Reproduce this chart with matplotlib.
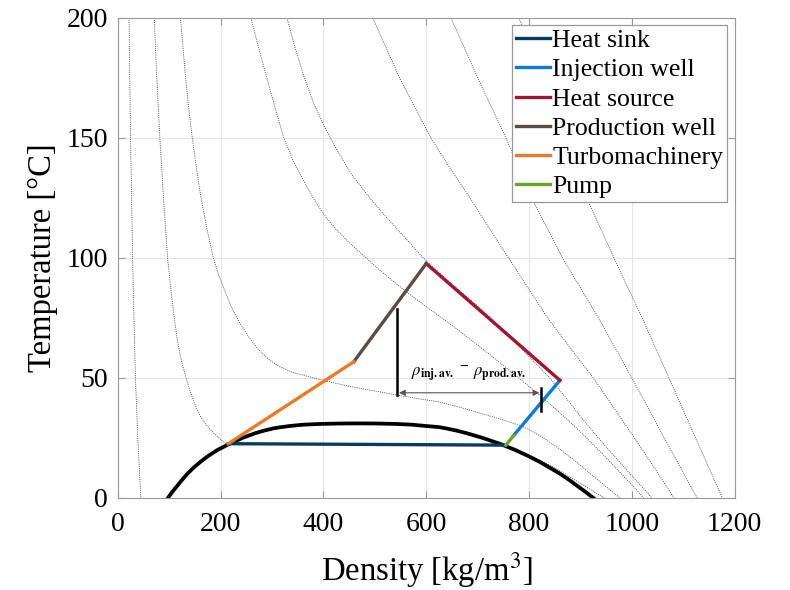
import numpy as np
import matplotlib
matplotlib.use("Agg")
import matplotlib.pyplot as plt

# ---------------------------------------------------------------------
# CO2 saturation dome (density kg/m3 vs temperature degC)
# ---------------------------------------------------------------------
SAT_T = [0, 2.5, 5, 7.5, 10, 12.5, 15, 17.5, 20, 22.5, 25, 26, 27, 28, 29, 29.5, 30, 30.5, 30.8, 31.0]
SAT_RHO_VAP = [97.6, 106, 115.6, 125, 135.2, 147, 160.7, 176, 194.2, 217, 242.7, 255, 268, 284, 303, 318, 336, 360, 390, 430]
SAT_RHO_LIQ = [925, 910, 894, 878, 861, 841, 821, 798, 773, 744, 710, 694, 678, 660, 638, 625, 598, 573, 545, 505]
CRIT_RHO, CRIT_T = 468, 31.05

# ---------------------------------------------------------------------
# Isobars (dotted)
# ---------------------------------------------------------------------
P2_T = [200, 175, 150, 125, 100, 75, 50, 25, 0]
P2_RHO = [22, 23.5, 25, 27, 29, 31.5, 34.5, 39, 45]

P6_T = [200, 187.5, 175, 162.5, 150, 137.5, 125, 112.5, 100, 87.5, 75, 67, 60, 55, 50, 45, 40,
        37, 34, 31, 28.5, 26, 24, 22.5, 22.0, 20, 17.5, 15, 12.5, 10, 7.5, 5, 2.5, 0]
P6_RHO = [71, 73.5, 76, 79, 82, 85.5, 89, 93, 97, 103, 110, 115, 121, 126.5, 133, 140, 148,
          154, 161, 170, 180, 192, 202, 212, 753, 778, 804, 828, 850, 870, 889, 908, 927, 946]

P10_T = [200, 187.5, 175, 162.5, 150, 137.5, 125, 112.5, 100, 93, 87, 80, 73, 67, 62, 58, 55,
         52.5, 50, 48.5, 47, 45.5, 44, 42.8, 41.5, 40, 37.5, 35, 32.5, 30, 27.5, 25, 20, 15, 10, 5, 0]
P10_RHO = [122, 127, 132, 138, 145, 153, 162, 173, 186, 196, 207, 220, 237, 255, 273, 292, 312,
           338, 380, 410, 440, 475, 515, 544, 580, 625, 670, 710, 750, 785, 808, 828, 862, 892, 920, 948, 977]

P20_T = [200, 187.5, 175, 162.5, 150, 140, 132, 125, 118, 112, 107, 100, 95, 90, 85, 80, 75, 70,
         65, 60, 55, 50, 45, 40, 35, 30, 25, 20, 15, 10, 5, 0]
P20_RHO = [259, 274, 290, 306, 323, 342, 362, 380, 401, 424, 447, 483, 509, 537, 567, 598, 630, 662,
           692, 722, 751, 780, 808, 836, 862, 888, 912, 935, 958, 980, 1002, 1023]

P25_T = [200, 187.5, 175, 165, 155, 145, 135, 125, 117, 110, 100, 90, 80, 70, 60, 50, 40, 30, 20, 10, 0]
P25_RHO = [329, 345, 363, 380, 401, 426, 454, 490, 522, 552, 594, 645, 700, 750, 795, 840, 878, 915, 955, 997, 1039]

P40_T = [200, 187.5, 175, 162.5, 150, 137.5, 125, 112.5, 100, 87.5, 75, 62.5, 50, 37.5, 25, 12.5, 0]
P40_RHO = [496, 522, 548, 578, 609, 646, 685, 722, 760, 798, 836, 880, 925, 965, 1005, 1044, 1082]

P60_T = [200, 175, 150, 125, 100, 75, 50, 25, 0]
P60_RHO = [648, 700, 755, 805, 865, 935, 1000, 1063, 1127]

P80_T = [200, 175, 150, 125, 100, 75, 50, 25, 0]
P80_RHO = [780, 830, 872, 912, 965, 1020, 1072, 1124, 1176]

# ---------------------------------------------------------------------
# Cycle segments
# ---------------------------------------------------------------------
SINK_RHO, SINK_T = [215, 755], [22.6, 22.0]
PUMP_RHO, PUMP_T = [755, 770], [22.0, 26.0]
INJ_RHO, INJ_T = [770, 860], [26.0, 49.0]
SOURCE_RHO, SOURCE_T = [860, 600], [49.0, 97.6]
PROD_RHO, PROD_T = [600, 459], [97.6, 56.7]
TURB_RHO, TURB_T = [459, 215], [56.7, 22.6]

# density-difference marker
RHO_PROD_AV, T_PROD_TOP, T_PROD_BOT = 544, 78.5, 42.8
RHO_INJ_AV, T_INJ_TOP, T_INJ_BOT = 823, 45.6, 36.3
T_ARROW = 43.8

plt.rcParams["font.family"] = ["Liberation Serif", "DejaVu Serif"]
plt.rcParams["mathtext.fontset"] = "stix"

fig = plt.figure(figsize=(7.9, 5.9), dpi=100)
ax = fig.add_axes([0.149, 0.156, 0.781, 0.814])

iso_kw = dict(color="#444444", lw=0.6, ls=(0, (1.2, 1.4)), zorder=1)
for rho, t in [(P2_RHO, P2_T), (P6_RHO, P6_T), (P10_RHO, P10_T), (P20_RHO, P20_T),
               (P25_RHO, P25_T), (P40_RHO, P40_T), (P60_RHO, P60_T), (P80_RHO, P80_T)]:
    ax.plot(rho, t, **iso_kw)

dome_rho = SAT_RHO_VAP + [CRIT_RHO] + SAT_RHO_LIQ[::-1]
dome_t = SAT_T + [CRIT_T] + SAT_T[::-1]
ax.plot(dome_rho, dome_t, color="black", lw=2.7, zorder=3, solid_joinstyle="round")

lw = 2.4
ax.plot(SINK_RHO, SINK_T, color="#0b3a60", lw=lw, zorder=4, label="Heat sink")
ax.plot(INJ_RHO, INJ_T, color="#0a7bd6", lw=lw, zorder=4, label="Injection well")
ax.plot(SOURCE_RHO, SOURCE_T, color="#a2142f", lw=lw, zorder=4, label="Heat source")
ax.plot(PROD_RHO, PROD_T, color="#574c47", lw=lw, zorder=4, label="Production well")
ax.plot(TURB_RHO, TURB_T, color="#ec7a2c", lw=lw, zorder=4, label="Turbomachinery")
ax.plot(PUMP_RHO, PUMP_T, color="#6fa22a", lw=lw, zorder=5, label="Pump")

ax.plot([RHO_PROD_AV, RHO_PROD_AV], [T_PROD_TOP, T_PROD_BOT], color="black", lw=1.8, zorder=6)
ax.plot([RHO_INJ_AV, RHO_INJ_AV], [T_INJ_TOP, T_INJ_BOT], color="black", lw=1.8, zorder=6)
ax.annotate("", xy=(RHO_INJ_AV - 3, T_ARROW), xytext=(RHO_PROD_AV + 3, T_ARROW),
            arrowprops=dict(arrowstyle="<|-|>", color="#555555", lw=0.8,
                            mutation_scale=9, shrinkA=0, shrinkB=0), zorder=6)
ax.text(571, 51.5, r"$\rho_{\mathbf{inj.av.}}$ $^{\mathbf{-}}$ $\rho_{\mathbf{prod.av.}}$",
        fontsize=12, fontweight="bold", ha="left", va="center", zorder=7)

ax.set_xlim(0, 1200)
ax.set_ylim(0, 200)
ax.set_xticks(np.arange(0, 1201, 200))
ax.set_yticks(np.arange(0, 201, 50))
ax.grid(True, color="#e6e6e6", lw=0.8, zorder=0)
ax.set_axisbelow(True)
for s in ax.spines.values():
    s.set_color("#999999")
    s.set_linewidth(0.8)
ax.tick_params(direction="in", length=5, width=0.8, color="#999999",
               labelsize=20, top=True, right=True)
ax.tick_params(axis="x", pad=10)
ax.tick_params(axis="y", pad=7)
ax.set_xlabel("Density [kg/m$^3$]", fontsize=23.5, labelpad=10)
ax.set_ylabel("Temperature [°C]", fontsize=23.5, labelpad=6)

leg = ax.legend(loc="upper right", fontsize=18.5, handlelength=1.3, handletextpad=0.1,
                labelspacing=0.24, borderpad=0.15, borderaxespad=0.3, fancybox=False,
                framealpha=1)
leg.get_frame().set_edgecolor("#999999")
leg.get_frame().set_linewidth(0.9)

fig.savefig("out.png", dpi=100)
